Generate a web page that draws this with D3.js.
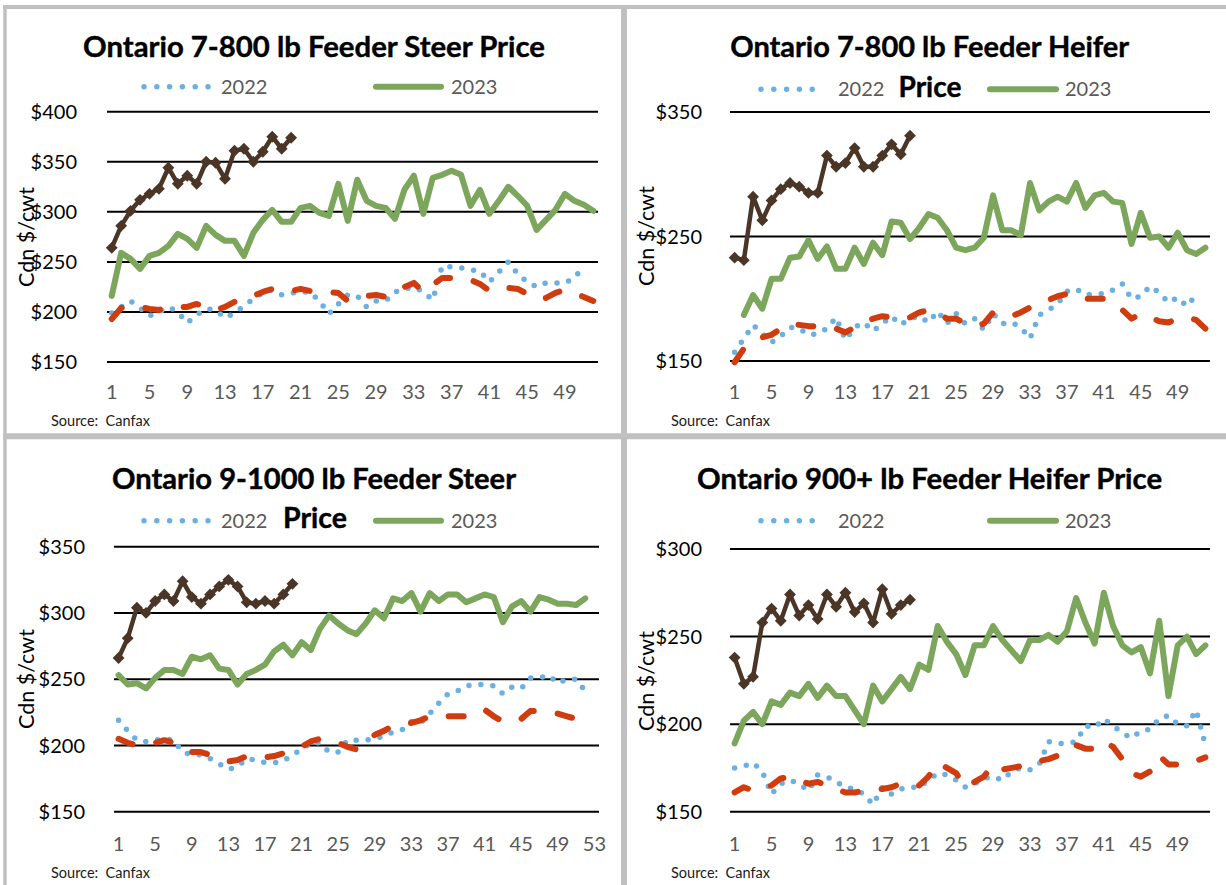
<!DOCTYPE html>
<html><head><meta charset="utf-8">
<script src="https://cdn.jsdelivr.net/npm/d3@7"></script>
<style>
body{margin:0;background:#fff;}
svg{display:block;font-family:Lato,"Open Sans",sans-serif;}
</style></head><body>
<svg id="c" width="1226" height="885"></svg>
<script>
// ---------- categories / ticks ----------
const weeks52 = d3.range(1, 53);
const weeks53 = d3.range(1, 54);
const xTicks52 = [1, 5, 9, 13, 17, 21, 25, 29, 33, 37, 41, 45, 49];
const xTicks53 = [1, 5, 9, 13, 17, 21, 25, 29, 33, 37, 41, 45, 49, 53];
const yTicksSteer78 = [150, 200, 250, 300, 350, 400];
const yTicksHeifer78 = [150, 250, 350];
const yTicksSteer910 = [150, 200, 250, 300, 350];
const yTicksHeifer900 = [150, 200, 250, 300];
const legendLabels = ["2022", "2023"];
const sourceText = "Source:  Canfax";
const yAxisTitle = "Cdn $/cwt";

// ---------- Ontario 7-800 lb Feeder Steer ----------
const steer78_2022 = [199,205,211,204,196,200,205,200,189,197,203,202,194,199,206,213,219,222,217,219,220,220,211,198,208,217,216,205,211,211,220,223,225,220,212,246,245,244,242,241,230,240,250,238,230,225,229,229,229,234,246];
const steer78_2023 = [216,259,253,243,256,259,266,278,273,264,286,277,271,271,256,279,292,302,290,290,304,306,299,296,328,291,332,311,306,304,293,322,336,298,334,337,341,337,306,322,298,311,325,316,306,282,292,302,318,311,307,301];
const steer78_2024 = [264,286,301,312,318,323,344,328,336,328,350,349,333,361,363,350,360,375,363,374];
const steer78_avg  = [193,204,206,205,203,202,205,205,205,208,204,202,205,210,212,216,220,223,222,221,223,221,221,220,219,211,213,216,217,215,219,225,229,220,227,234,234,234,232,228,221,223,224,223,218,213,214,219,222,219,215,211];

// ---------- Ontario 7-800 lb Feeder Heifer ----------
const heifer78_2022 = [157,168,179,172,165,170,177,176,171,172,176,185,167,177,181,174,180,186,179,184,186,181,190,180,188,180,184,175,188,180,181,177,168,187,191,196,206,208,203,204,204,207,212,200,202,210,205,197,201,194,203];
const heifer78_2023 = [null,187,203,192,216,216,233,234,247,232,242,224,224,241,228,245,235,262,261,248,257,268,265,255,241,239,241,249,283,255,255,251,293,271,278,282,278,293,273,283,285,278,277,244,269,249,250,241,253,239,236,241];
const heifer78_2024 = [233,231,282,263,279,288,293,290,285,285,315,306,309,321,306,306,315,324,316,331];
const heifer78_avg  = [149,160,166,169,171,176,180,179,178,178,178,176,173,177,181,184,186,185,183,185,189,191,189,184,184,180,178,180,189,187,186,189,193,196,199,202,204,204,200,200,200,197,191,184,188,185,182,181,184,185,183,176];

// ---------- Ontario 9-1000 lb Feeder Steer ----------
const steer910_2022 = [219,211,204,203,204,205,204,195,193,193,190,186,182,184,190,189,187,187,188,193,197,202,202,195,195,204,204,204,205,207,210,212,218,217,224,232,239,241,245,246,246,245,239,244,243,251,251,253,247,250,250,241];
const steer910_2023 = [253,246,247,243,251,257,257,254,267,265,268,258,257,246,254,257,261,271,276,268,278,272,288,298,292,287,284,292,302,296,311,309,315,301,315,309,314,314,308,311,314,312,293,305,309,301,312,310,307,307,306,311];
const steer910_2024 = [266,281,304,300,309,314,309,324,312,307,314,320,325,320,308,307,309,307,314,322];
const steer910_avg  = [205,202,200,201,202,204,202,199,195,195,193,190,188,189,192,192,191,192,194,196,199,203,205,203,202,199,197,203,208,211,215,216,217,219,222,222,222,222,222,225,227,222,218,219,220,226,226,225,224,222,220,217];

// ---------- Ontario 900+ lb Feeder Heifer ----------
const heifer900_2022 = [175,176,178,173,160,166,168,166,162,171,170,167,164,163,160,154,164,160,163,164,164,168,172,171,168,164,166,169,170,168,173,175,174,177,190,189,189,190,199,198,203,199,195,192,196,197,203,205,200,199,208,188];
const heifer900_2023 = [189,202,207,200,213,211,218,216,223,215,222,216,216,208,200,222,213,220,227,220,234,231,256,247,240,228,245,245,256,248,242,236,248,248,251,247,253,272,258,246,275,256,245,241,244,229,259,216,245,250,240,245];
const heifer900_2024 = [238,223,227,258,266,259,274,262,268,260,274,267,275,264,269,258,277,263,268,271];
const heifer900_avg  = [161,164,162,163,165,169,170,168,166,167,165,163,161,161,162,162,163,164,166,164,165,170,178,175,172,164,167,170,177,174,175,176,177,179,180,182,183,188,186,186,190,187,180,172,170,173,182,177,177,177,179,181];

// ---------- styles ----------
const C2022 = "#6cb0e2", C2023 = "#7ba65b", C2024 = "#4a3527", CAVG = "#d13c0f";
const GRID = "#000", BORDER = "#c0c0c0";

// ---------- layout per panel ----------
const panels = [
  { titles: [{t:"Ontario 7-800 lb Feeder Steer Price", cx:314, w:462, y:57}],
    x0:107, x1:598, yTop:111.7, yBot:362, yDomain:[150,400], yTicks:yTicksSteer78,
    cats:weeks52, xTicks:xTicks52, labelRight:77, yTitleX:34, yTitleY:237, xLabelY:399,
    legY:86.7, legTextY:94, legDots:[144,209], leg22X:221, legGreen:[376,441], leg23X:451,
    srcX:51, srcY:426,
    s22:steer78_2022, s23:steer78_2023, s24:steer78_2024, avg:steer78_avg },
  { titles: [{t:"Ontario 7-800 lb Feeder Heifer", cx:929.7, w:399, y:57},{t:"Price", cx:930, w:63, y:96.5}],
    x0:730, x1:1210, yTop:112, yBot:361, yDomain:[150,350], yTicks:yTicksHeifer78,
    cats:weeks52, xTicks:xTicks52, labelRight:702, yTitleX:654, yTitleY:236, xLabelY:399,
    legY:89.3, legTextY:96, legDots:[761,825], leg22X:838, legGreen:[990,1056], leg23X:1065,
    srcX:671, srcY:426,
    s22:heifer78_2022, s23:heifer78_2023, s24:heifer78_2024, avg:heifer78_avg },
  { titles: [{t:"Ontario 9-1000 lb Feeder Steer", cx:314, w:404, y:489},{t:"Price", cx:315, w:64, y:527.5}],
    x0:114, x1:599, yTop:546.7, yBot:811.7, yDomain:[150,350], yTicks:yTicksSteer910,
    cats:weeks53, xTicks:xTicks53, labelRight:85, yTitleX:34, yTitleY:679, xLabelY:850.5,
    legY:520.7, legTextY:527.5, legDots:[144,209], leg22X:221, legGreen:[376,441], leg23X:451,
    srcX:51, srcY:878,
    s22:steer910_2022, s23:steer910_2023, s24:steer910_2024, avg:steer910_avg },
  { titles: [{t:"Ontario 900+ lb Feeder Heifer Price", cx:929.6, w:465, y:489}],
    x0:730, x1:1210, yTop:549, yBot:811.7, yDomain:[150,300], yTicks:yTicksHeifer900,
    cats:weeks52, xTicks:xTicks52, labelRight:702, yTitleX:654, yTitleY:681, xLabelY:850.5,
    legY:520.7, legTextY:527.5, legDots:[761,825], leg22X:838, legGreen:[990,1056], leg23X:1065,
    srcX:671, srcY:878,
    s22:heifer900_2022, s23:heifer900_2023, s24:heifer900_2024, avg:heifer900_avg }
];

const svg = d3.select("#c");
svg.append("rect").attr("width",1226).attr("height",885).attr("fill","#fff");

// panel frames
const frame = svg.append("g").attr("stroke", BORDER).attr("fill","none");
frame.append("line").attr("x1",5).attr("x2",5).attr("y1",5).attr("y2",885).attr("stroke-width",3.5);
frame.append("line").attr("x1",624).attr("x2",624).attr("y1",5).attr("y2",885).attr("stroke-width",6);
frame.append("line").attr("x1",3).attr("x2",1226).attr("y1",7).attr("y2",7).attr("stroke-width",4);
frame.append("line").attr("x1",3).attr("x2",1226).attr("y1",436.3).attr("y2",436.3).attr("stroke-width",6);

const DOT_DASH = "0 12", AVG_DASH = "15 24";

panels.forEach(p => {
  const g = svg.append("g");
  const x = d3.scalePoint().domain(p.cats).range([p.x0, p.x1]).padding(0.5);
  const y = d3.scaleLinear().domain(p.yDomain).range([p.yBot, p.yTop]);

  // titles
  p.titles.forEach(tt => {
    g.append("text").attr("x", tt.cx).attr("y", tt.y).attr("text-anchor","middle")
      .attr("font-size", 28).attr("font-weight", 700).attr("fill","#000")
      .attr("stroke","#000").attr("stroke-width",0.4)
      .attr("textLength", tt.w).attr("lengthAdjust","spacingAndGlyphs").text(tt.t);
  });

  // gridlines
  g.append("g").selectAll("line").data(p.yTicks).join("line")
    .attr("x1", p.x0).attr("x2", p.x1)
    .attr("y1", d => y(d)).attr("y2", d => y(d))
    .attr("stroke", GRID).attr("stroke-width", 2);

  // y labels
  g.append("g").selectAll("text").data(p.yTicks).join("text")
    .attr("x", p.labelRight).attr("y", d => y(d)).attr("dy","0.36em")
    .attr("text-anchor","end").attr("font-size",20).attr("fill","#000")
    .text(d => "$" + d);

  // x labels
  g.append("g").selectAll("text").data(p.xTicks).join("text")
    .attr("x", d => x(d)).attr("y", p.xLabelY)
    .attr("text-anchor","middle").attr("font-size",20).attr("fill","#595959")
    .text(d => d);

  // y axis title
  g.append("text")
    .attr("transform", `translate(${p.yTitleX},${p.yTitleY}) rotate(-90)`)
    .attr("text-anchor","middle").attr("font-size",21.5).attr("fill","#000")
    .text(yAxisTitle);

  // source
  g.append("text").attr("x", p.srcX).attr("y", p.srcY)
    .attr("font-size",14.5).attr("fill","#1a1a1a").style("white-space","pre")
    .text(sourceText);

  const line = d3.line()
    .defined(d => d.v != null)
    .x(d => x(d.w)).y(d => y(d.v));
  const pts = arr => arr.map((v,i) => ({w: p.cats[i], v}));

  // 2022 dotted
  g.append("path").datum(pts(p.s22)).attr("d", line)
    .attr("fill","none").attr("stroke", C2022).attr("stroke-width",5.5)
    .attr("stroke-linecap","round").attr("stroke-dasharray", DOT_DASH);
  // 2023 solid green
  g.append("path").datum(pts(p.s23)).attr("d", line)
    .attr("fill","none").attr("stroke", C2023).attr("stroke-width",6)
    .attr("stroke-linejoin","round").attr("stroke-linecap","round");
  // average dashed
  g.append("path").datum(pts(p.avg)).attr("d", line)
    .attr("fill","none").attr("stroke", CAVG).attr("stroke-width",6)
    .attr("stroke-linecap","round").attr("stroke-linejoin","round")
    .attr("stroke-dasharray", AVG_DASH);
  // 2024 brown with diamonds
  g.append("path").datum(pts(p.s24)).attr("d", line)
    .attr("fill","none").attr("stroke", C2024).attr("stroke-width",4.5)
    .attr("stroke-linejoin","round");
  const diamond = d3.symbol(d3.symbolSquare, 70)();
  g.append("g").selectAll("path").data(pts(p.s24)).join("path")
    .attr("d", diamond)
    .attr("transform", d => `translate(${x(d.w)},${y(d.v)}) rotate(45)`)
    .attr("fill", C2024);

  // legend
  g.append("line").attr("x1", p.legDots[0]).attr("x2", p.legDots[1])
    .attr("y1", p.legY).attr("y2", p.legY)
    .attr("stroke", C2022).attr("stroke-width",5.5).attr("stroke-linecap","round")
    .attr("stroke-dasharray", "0 12.8");
  g.append("text").attr("x", p.leg22X).attr("y", p.legTextY)
    .attr("font-size",20).attr("fill","#595959").text(legendLabels[0]);
  g.append("line").attr("x1", p.legGreen[0]).attr("x2", p.legGreen[1])
    .attr("y1", p.legY).attr("y2", p.legY)
    .attr("stroke", C2023).attr("stroke-width",6).attr("stroke-linecap","round");
  g.append("text").attr("x", p.leg23X).attr("y", p.legTextY)
    .attr("font-size",20).attr("fill","#595959").text(legendLabels[1]);
});
</script></body></html>
